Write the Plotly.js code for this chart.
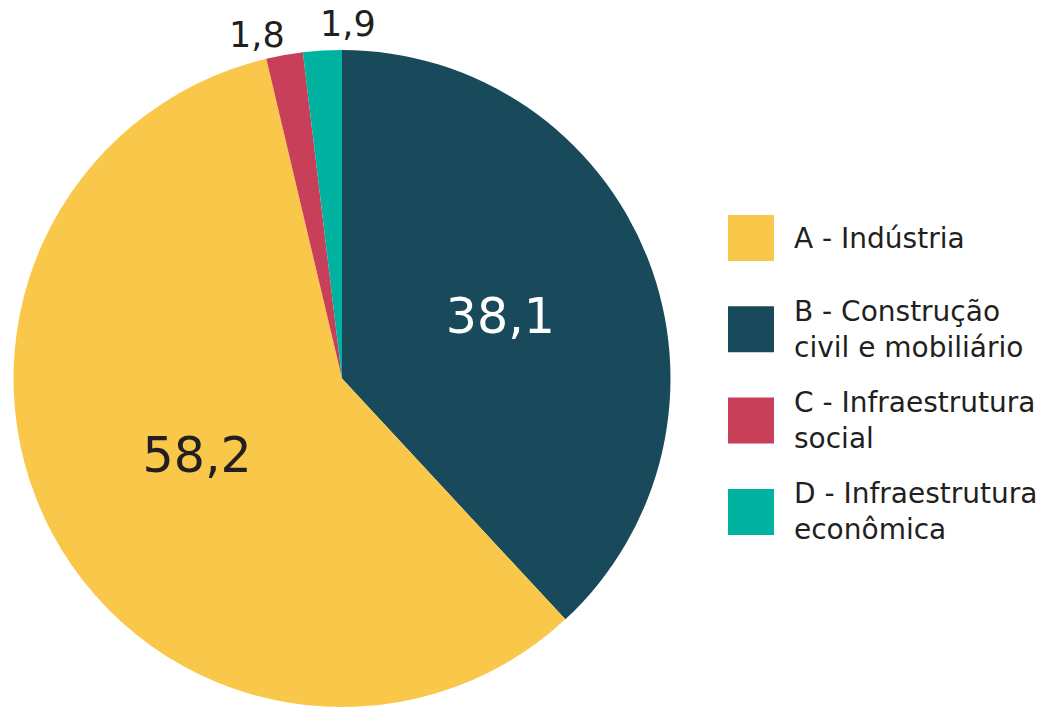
<!DOCTYPE html>
<html>
<head>
<meta charset="utf-8">
<script src="https://cdn.plot.ly/plotly-3.0.1.min.js"></script>
<style>html,body{margin:0;padding:0;background:#fff;}#chart{width:1046px;height:707px;}</style>
</head>
<body>
<div id="chart"></div>
<script>
// Data (clockwise from 12 o'clock)
const sliceLabels = ["B - Construção civil e mobiliário", "A - Indústria", "C - Infraestrutura social", "D - Infraestrutura econômica"];
const sliceValues = [38.1, 58.2, 1.8, 1.9];
const sliceColors = ["#184a5c", "#f9c74a", "#c83f59", "#00b3a0"];
const sliceTextColors = ["#ffffff", "#231f20", "#231f20", "#231f20"];
const sliceTextPos = ["inside", "inside", "none", "none"];
// positions (px) of the labels of the thin slices, placed above the pie
const smallLabelPos = {2: [257, 35], 3: [348, 24]};

// Legend (display order)
const legendText = ["A - Indústria", "B - Construção<br>civil e mobiliário", "C - Infraestrutura<br>social", "D - Infraestrutura<br>econômica"];
const legendColors = ["#f9c74a", "#184a5c", "#c83f59", "#00b3a0"];

const W = 1046, H = 707;
const font = "'DejaVu Sans', 'Open Sans', sans-serif";
const fmt = v => v.toFixed(1).replace(".", ",");

const shapes = [], annotations = [];
legendColors.forEach((c, i) => {
  const top = 215 + i * 91.3, bot = top + 46;
  shapes.push({type: "rect", xref: "paper", yref: "paper",
    x0: 728 / W, x1: 774 / W, y0: 1 - bot / H, y1: 1 - top / H,
    fillcolor: c, line: {width: 0}});
  annotations.push({xref: "paper", yref: "paper", x: 792 / W, y: 1 - (top + 23) / H,
    xanchor: "left", yanchor: "middle", align: "left", showarrow: false,
    text: legendText[i], font: {family: font, size: 28, color: "#231f20"}});
});
Object.keys(smallLabelPos).forEach(k => {
  const p = smallLabelPos[k];
  annotations.push({xref: "paper", yref: "paper", x: p[0] / W, y: 1 - p[1] / H,
    xanchor: "center", yanchor: "middle", showarrow: false,
    text: fmt(sliceValues[k]), font: {family: font, size: 35, color: "#231f20"}});
});

const trace = {
  type: "pie",
  labels: sliceLabels,
  values: sliceValues,
  sort: false,
  direction: "clockwise",
  rotation: 0,
  marker: {colors: sliceColors, line: {width: 0}},
  textinfo: "value",
  texttemplate: "%{value:.1f}",
  textposition: sliceTextPos,
  insidetextorientation: "horizontal",
  textfont: {family: font, size: 49, color: sliceTextColors},
  insidetextfont: {family: font, size: 49, color: sliceTextColors},
  hoverinfo: "label+value",
  domain: {x: [12 / W, 672 / W], y: [0, 1 - 50 / H]},
  showlegend: false,
  automargin: false
};

const layout = {
  width: W, height: H,
  margin: {l: 0, r: 0, t: 0, b: 0},
  paper_bgcolor: "#ffffff",
  separators: ",.",
  showlegend: false,
  shapes: shapes,
  annotations: annotations,
  font: {family: font}
};

Plotly.newPlot("chart", [trace], layout, {displayModeBar: false, staticPlot: true});
</script>
</body>
</html>
